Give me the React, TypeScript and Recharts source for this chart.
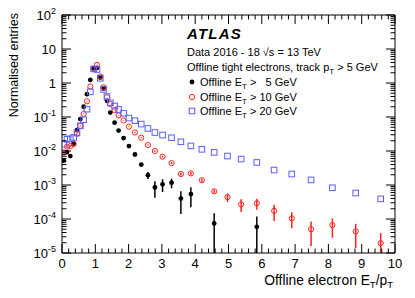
import React from 'react';
import { ScatterChart, Scatter, XAxis, YAxis, ErrorBar } from 'recharts';

// bin centres of E_T/p_T (variable binning above 1.5)
const bins = [
  0.05, 0.15, 0.25, 0.35, 0.45, 0.55, 0.65, 0.75, 0.85, 0.95, 1.05, 1.15, 1.25, 1.35, 1.45,
  1.58, 1.7, 1.85, 2.01, 2.19, 2.38, 2.58, 2.79, 3.02, 3.29, 3.57, 3.87, 4.2, 4.57, 4.97,
  5.38, 5.85, 6.37, 6.9, 7.48, 8.12, 8.82, 9.57,
];

// E_T > 5 GeV
const et5 = [
  5.2e-3, 9.3e-3, 7.1e-3, 1.66e-2, 4.1e-2, 8.7e-2, 0.2, 0.47, 1.23, 2.7, 2.8, 1.45, 0.69, 0.3, 0.135,
  6.8e-2, 4.0e-2, 2.4e-2, 1.4e-2, 7.9e-3, 4.0e-3, 1.95e-3, 8.5e-4, 1.05e-3, 1.17e-3, 4.0e-4, 5.4e-4, null, 7.4e-5, null,
  null, 5.9e-5, null, null, null, null, null, null,
];
const et5Err = [
  4e-4, 6e-4, 5e-4, 8e-4, 1.2e-3, 1.8e-3, 3e-3, 5e-3, 8e-3, 1.2e-2, 1.2e-2, 8e-3, 5e-3, 3.5e-3, 2.5e-3,
  1.8e-3, 1.4e-3, 1.1e-3, 8e-4, 6e-4, 4.5e-4, 4.5e-4, 4.3e-4, 4.3e-4, 3.7e-4, 2.6e-4, 3.2e-4, null, 7.4e-5, null,
  null, 5.9e-5, null, null, null, null, null, null,
];

// E_T > 10 GeV
const et10 = [
  9.1e-3, 1.35e-2, 1.4e-2, 1.6e-2, 3.2e-2, 5.5e-2, 0.123, 0.29, 0.79, 2.6, 3.4, 1.55, 0.75, 0.38, 0.24,
  0.16, 0.112, 7.9e-2, 5.2e-2, 3.5e-2, 2.45e-2, 1.5e-2, 1.0e-2, 6.8e-3, 4.4e-3, 2.1e-3, 2.2e-3, 1.38e-3, 6.5e-4, 4.4e-4,
  2.7e-4, 2.9e-4, 1.74e-4, 1.05e-4, 5.0e-5, 6.6e-5, 4.3e-5, 1.95e-5,
];
const et10Err = [
  6e-4, 8e-4, 8e-4, 9e-4, 1.2e-3, 1.6e-3, 2.5e-3, 4e-3, 7e-3, 1.3e-2, 1.5e-2, 1e-2, 6e-3, 4e-3, 3e-3,
  2.5e-3, 2e-3, 1.6e-3, 1.3e-3, 1e-3, 8e-4, 6e-4, 5e-4, 4e-4, 3e-4, 2e-4, 2e-4, 1.5e-4, 7e-5, 1.25e-4,
  1.08e-4, 1.04e-4, 8.7e-5, 5.2e-5, 3.4e-5, 3.8e-5, 2.9e-5, 1.9e-5,
];

// E_T > 20 GeV
const et20 = [
  1.58e-2, 2.2e-2, 2.3e-2, 2.5e-2, 3.4e-2, 5.5e-2, 8.3e-2, 0.17, 0.55, 2.6, 2.5, 1.38, 0.65, 0.4, 0.26,
  0.21, 0.166, 0.129, 9.3e-2, 7.8e-2, 6.2e-2, 4.6e-2, 3.5e-2, 2.95e-2, 2.45e-2, 1.86e-2, 1.41e-2, 1.12e-2, 9.1e-3, 7.1e-3,
  5.8e-3, 4.6e-3, 2.75e-3, 2.1e-3, 1.41e-3, 8.3e-4, 5.8e-4, 3.9e-4,
];

const xMajor = [0, 1, 2, 3, 4, 5, 6, 7, 8, 9, 10];
const yMajor = [1e-5, 1e-4, 1e-3, 1e-2, 1e-1, 1, 10, 100];
const yLabels = ['10|-5', '10|-4', '10|-3', '10|-2', '10|-1', '1', '10', '10|2'];

const Y_MIN = 1e-5;
const FONT = '"Liberation Sans", Arial, Helvetica, sans-serif';

const xTicks: number[] = [];
for (let i = 0; i <= 50; i++) xTicks.push(Math.round(i * 2) / 10);
const yTicks: number[] = [];
for (let e = -5; e <= 1; e++) {
  for (let m = 1; m <= 9; m++) yTicks.push(Number((m * Math.pow(10, e)).toPrecision(3)));
}
yTicks.push(100);

const isMajorX = (v: number) => xMajor.some((m) => Math.abs(m - v) < 1e-6);
const isMajorY = (v: number) => yMajor.some((m) => Math.abs(m - v) / m < 1e-6);

const build = (ys: (number | null)[], errs?: (number | null)[]) =>
  bins
    .map((x, i) => {
      const y = ys[i];
      if (y == null) return null;
      const e = errs ? errs[i] ?? 0 : 0;
      return { x, y, err: [Math.min(e, y - Y_MIN), e] };
    })
    .filter((d) => d !== null);

const d5 = build(et5, et5Err);
const d10 = build(et10, et10Err);
const d20 = build(et20);

const BottomTick = (p: any) => {
  const v = p.payload.value;
  const major = isMajorX(v);
  const y0 = p.y - 4;
  return (
    <g>
      <line x1={p.x} x2={p.x} y1={y0} y2={y0 - (major ? 9 : 4.5)} stroke="#000" />
      {major && (
        <text x={p.x} y={y0 + 15} textAnchor="middle" fontSize={13} fontFamily={FONT} fill="#000">
          {v}
        </text>
      )}
    </g>
  );
};

const TopTick = (p: any) => {
  const major = isMajorX(p.payload.value);
  return <line x1={p.x} x2={p.x} y1={p.y} y2={p.y + (major ? 9 : 4.5)} stroke="#000" />;
};

const LeftTick = (p: any) => {
  const v = p.payload.value;
  const major = isMajorY(v);
  const x0 = p.x + 4;
  let label: React.ReactNode = null;
  if (major) {
    const [base, exp] = yLabels[yMajor.findIndex((m) => Math.abs(m - v) / m < 1e-6)].split('|');
    label = (
      <text x={x0 - 6} y={p.y + 5} textAnchor="end" fontSize={13} fontFamily={FONT} fill="#000">
        {base}
        {exp && (
          <tspan dy={-6} fontSize={9}>
            {exp}
          </tspan>
        )}
      </text>
    );
  }
  return (
    <g>
      <line x1={x0} x2={x0 + (major ? 9 : 4.5)} y1={p.y} y2={p.y} stroke="#000" />
      {label}
    </g>
  );
};

const RightTick = (p: any) => {
  const major = isMajorY(p.payload.value);
  return <line x1={p.x} x2={p.x - (major ? 9 : 4.5)} y1={p.y} y2={p.y} stroke="#000" />;
};

const BLACK = '#000000';
const RED = '#ff2020';
const BLUE = '#5c5cff';

const Dot = (p: any) => <circle cx={p.cx} cy={p.cy} r={2.4} fill={BLACK} />;
const Ring = (p: any) => <circle cx={p.cx} cy={p.cy} r={2.6} fill="none" stroke={RED} strokeWidth={1} />;
const Box = (p: any) => (
  <rect x={p.cx - 2.8} y={p.cy - 2.8} width={5.6} height={5.6} fill="none" stroke={BLUE} strokeWidth={1} />
);

const App = () => {
  return (
    <div style={{ position: 'absolute', left: 0, top: 0, width: 415, height: 298, background: '#fff' }}>
      <ScatterChart width={415} height={298} margin={{ top: 14, right: 19, bottom: 25, left: 0 }}>
        <XAxis
          dataKey="x"
          type="number"
          domain={[0, 10]}
          allowDataOverflow
          ticks={xTicks}
          interval={0}
          tick={BottomTick}
          tickLine={false}
          tickSize={0}
          tickMargin={4}
          height={20}
          axisLine={{ stroke: '#000' }}
        />
        <XAxis
          xAxisId="top"
          orientation="top"
          dataKey="x"
          type="number"
          domain={[0, 10]}
          allowDataOverflow
          ticks={xTicks}
          interval={0}
          tick={TopTick}
          tickLine={false}
          tickSize={0}
          tickMargin={0}
          height={1}
          axisLine={{ stroke: '#000' }}
        />
        <YAxis
          dataKey="y"
          type="number"
          scale="log"
          domain={[1e-5, 100]}
          allowDataOverflow
          ticks={yTicks}
          interval={0}
          tick={LeftTick}
          tickLine={false}
          tickSize={0}
          tickMargin={4}
          width={62}
          axisLine={{ stroke: '#000' }}
        />
        <YAxis
          yAxisId="right"
          orientation="right"
          dataKey="y"
          type="number"
          scale="log"
          domain={[1e-5, 100]}
          allowDataOverflow
          ticks={yTicks}
          interval={0}
          tick={RightTick}
          tickLine={false}
          tickSize={0}
          tickMargin={0}
          width={1}
          axisLine={{ stroke: '#000' }}
        />
        <Scatter data={d5} shape={Dot} isAnimationActive={false}>
          <ErrorBar dataKey="err" direction="y" width={0} stroke={BLACK} strokeWidth={1.5} />
        </Scatter>
        <Scatter data={d10} shape={Ring} isAnimationActive={false}>
          <ErrorBar dataKey="err" direction="y" width={0} stroke={RED} strokeWidth={1.5} />
        </Scatter>
        <Scatter data={d20} shape={Box} isAnimationActive={false} />
      </ScatterChart>

      <svg
        width={415}
        height={298}
        style={{ position: 'absolute', left: 0, top: 0, pointerEvents: 'none' }}
        fontFamily={FONT}
      >
        <text x={18} y={13} transform="rotate(-90 18 13)" textAnchor="end" fontSize={12.5}>
          Normalised entries
        </text>
        <text x={393} y={285} textAnchor="end" fontSize={13.8}>
          Offline electron E
          <tspan dy={3} fontSize={9.5}>T</tspan>
          <tspan dy={-3}>/p</tspan>
          <tspan dy={3} fontSize={9.5}>T</tspan>
        </text>

        <text x={187} y={39} fontSize={15} fontWeight="bold" fontStyle="italic" letterSpacing={1.2}>
          ATLAS
        </text>
        <text x={187} y={56} fontSize={11}>
          Data 2016 - 18 √s = 13 TeV
        </text>
        <text x={187} y={71} fontSize={11}>
          Offline tight electrons, track p
          <tspan dy={2.5} fontSize={8}>T</tspan>
          <tspan dy={-2.5}> &gt; 5 GeV</tspan>
        </text>

        <circle cx={192} cy={82} r={2.4} fill={BLACK} />
        <text x={200} y={86} fontSize={11} xmlSpace="preserve">
          Offline E
          <tspan dy={2.5} fontSize={8}>T</tspan>
          <tspan dy={-2.5}>{' >\u00a0\u00a0 5 GeV'}</tspan>
        </text>
        <circle cx={192} cy={97} r={2.6} fill="none" stroke={RED} strokeWidth={1} />
        <text x={200} y={101} fontSize={11}>
          Offline E
          <tspan dy={2.5} fontSize={8}>T</tspan>
          <tspan dy={-2.5}> &gt; 10 GeV</tspan>
        </text>
        <rect x={189.2} y={108.2} width={5.6} height={5.6} fill="none" stroke={BLUE} strokeWidth={1} />
        <text x={200} y={115} fontSize={11}>
          Offline E
          <tspan dy={2.5} fontSize={8}>T</tspan>
          <tspan dy={-2.5}> &gt; 20 GeV</tspan>
        </text>
      </svg>
    </div>
  );
};

export default App;
